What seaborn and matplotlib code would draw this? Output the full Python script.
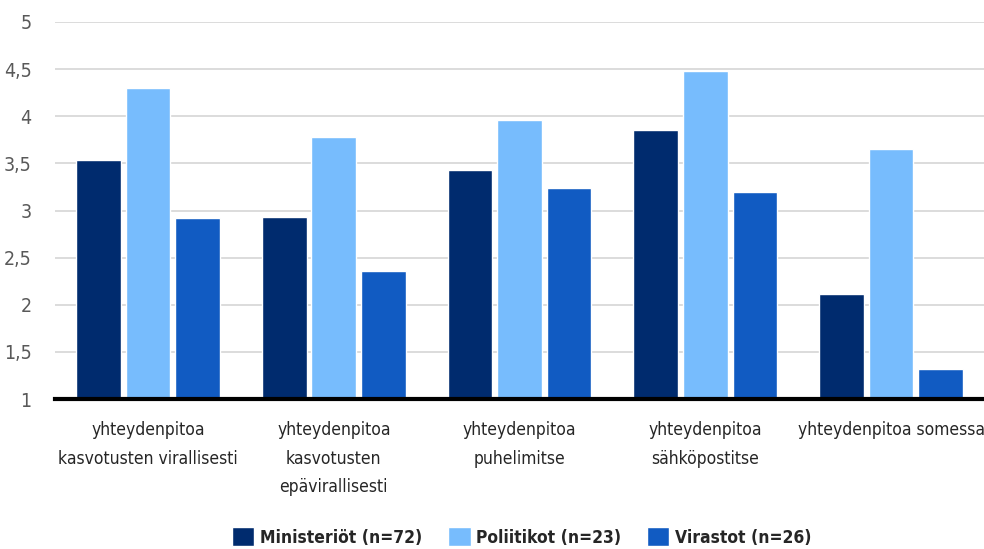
import matplotlib
matplotlib.use("Agg")
import matplotlib.pyplot as plt
import matplotlib.ticker as mticker
import seaborn as sns
import pandas as pd

# data
categories = [
    "yhteydenpitoa\nkasvotusten virallisesti",
    "yhteydenpitoa\nkasvotusten\nepävirallisesti",
    "yhteydenpitoa\npuhelimitse",
    "yhteydenpitoa\nsähköpostitse",
    "yhteydenpitoa somessa",
]
series_names = ["Ministeriöt (n=72)", "Poliitikot (n=23)", "Virastot (n=26)"]
ministeriot = [3.54, 2.93, 3.43, 3.85, 2.11]
poliitikot = [4.30, 3.78, 3.96, 4.48, 3.65]
virastot = [2.92, 2.36, 3.24, 3.20, 1.32]
colors = ["#002B6E", "#77BCFD", "#115BC2"]

rows = []
for name, vals in zip(series_names, [ministeriot, poliitikot, virastot]):
    for cat, v in zip(categories, vals):
        rows.append({"kategoria": cat, "ryhmä": name, "arvo": v})
df = pd.DataFrame(rows)

sns.set_theme(style="white")
plt.rcParams["font.family"] = ["DejaVu Sans"]
plt.rcParams["font.stretch"] = "condensed"

fig = plt.figure(figsize=(9.84, 5.49), dpi=100)
ax = fig.add_axes([0.056, 0.273, 0.944, 0.687])

sns.barplot(data=df, x="kategoria", y="arvo", hue="ryhmä", palette=colors,
            width=0.8, gap=0.1, ax=ax, zorder=3, saturation=1)

ax.set_ylim(1, 5)
ax.yaxis.set_major_locator(mticker.MultipleLocator(0.5))
ax.yaxis.set_major_formatter(mticker.FuncFormatter(
    lambda v, p: f"{v:g}".replace(".", ",")))
ax.grid(axis="y", color="#d9d9d9", linewidth=1.3, zorder=0)
ax.set_axisbelow(True)
for s in ["top", "right", "left"]:
    ax.spines[s].set_visible(False)
ax.spines["bottom"].set_color("black")
ax.spines["bottom"].set_linewidth(3)
ax.spines["bottom"].set_zorder(5)
ax.set_xlabel("")
ax.set_ylabel("")
ax.tick_params(axis="y", length=0, labelsize=14, labelcolor="#595959", pad=17)
ax.tick_params(axis="x", length=0, labelsize=12.5, labelcolor="#262626", pad=16)
for t in ax.get_xticklabels():
    t.set_linespacing(1.75)
ax.set_xlim(-0.5, 4.5)

handles, labels = ax.get_legend_handles_labels()
ax.get_legend().remove()
fig.legend(handles, labels, loc="center", bbox_to_anchor=(0.53, 0.022),
           ncol=3, frameon=False, handlelength=1.3, handleheight=1.3,
           handletextpad=0.3, columnspacing=1.5,
           prop={"weight": "bold", "size": 12.5})

fig.savefig("out.png", dpi=100)
